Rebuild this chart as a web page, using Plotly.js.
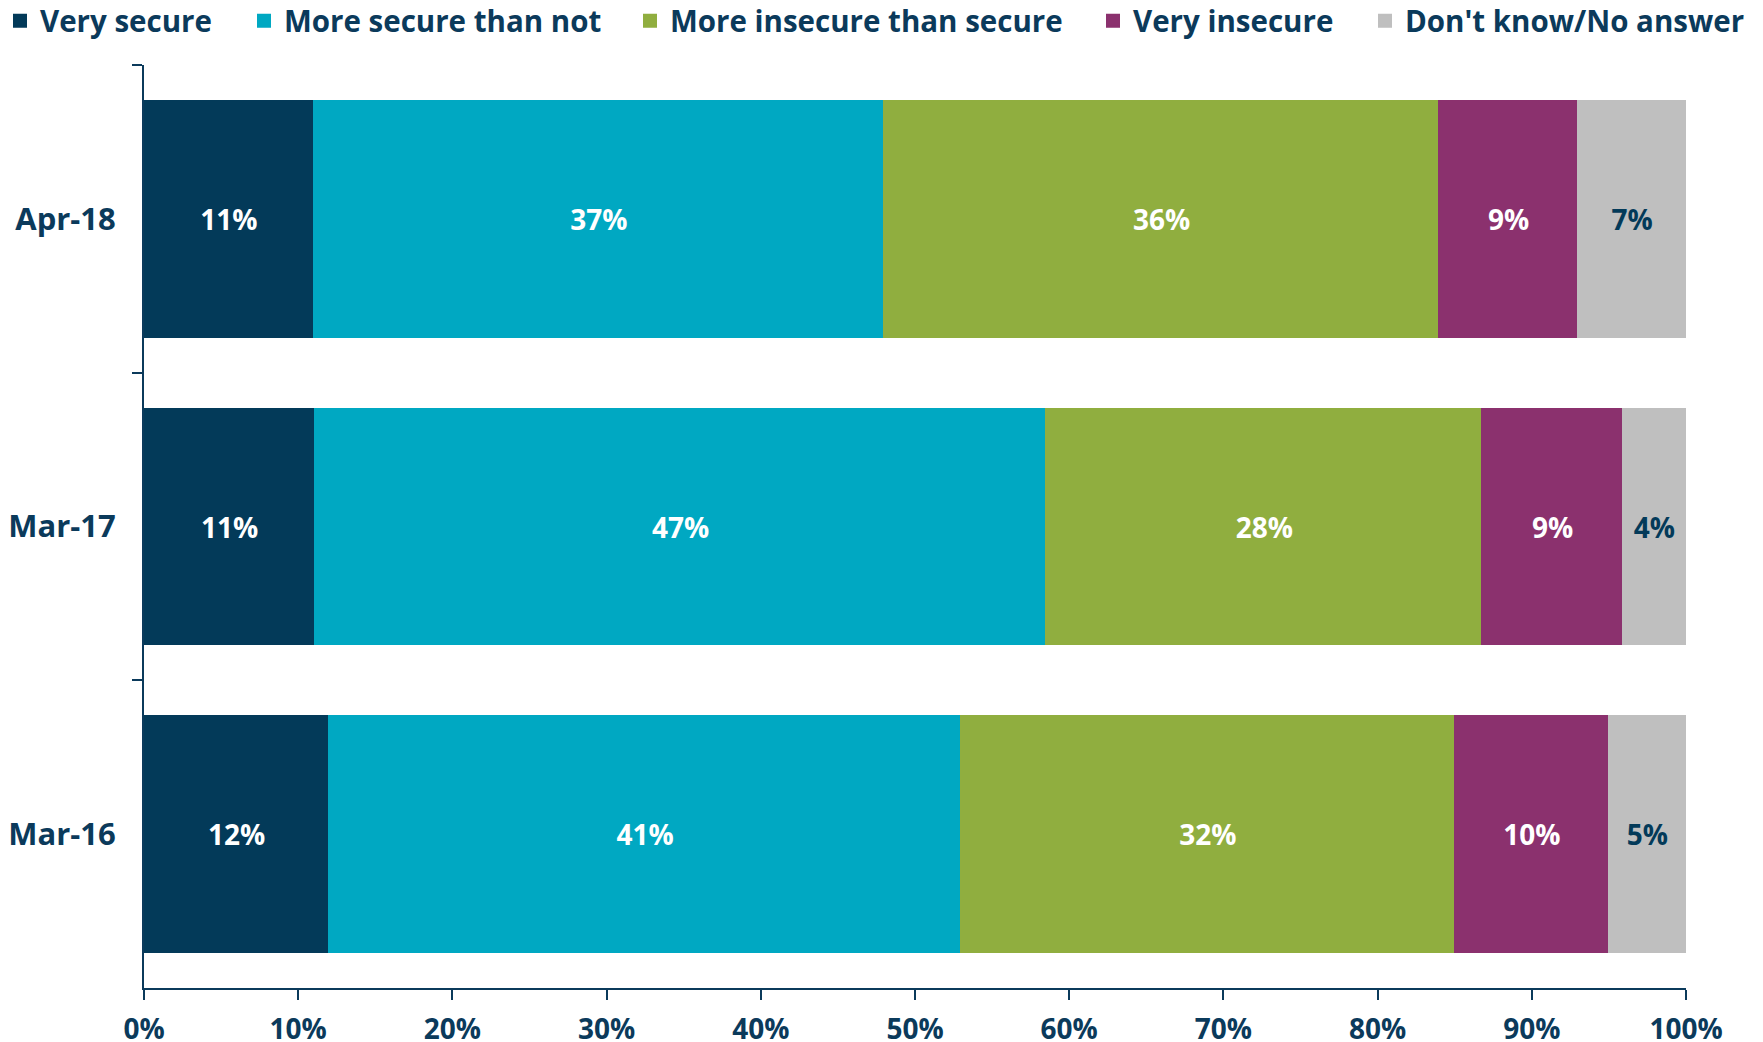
<!DOCTYPE html>
<html>
<head>
<meta charset="utf-8">
<script src="https://cdn.plot.ly/plotly-3.0.1.min.js"></script>
<style>
  html, body { margin: 0; padding: 0; background: #ffffff; }
  #chart { width: 1763px; height: 1042px; }
</style>
</head>
<body>
<div id="chart"></div>
<script>
// Survey waves (top to bottom)
const categories = ['Apr-18', 'Mar-17', 'Mar-16'];

// Series names
const seriesNames = ['Very secure', 'More secure than not', 'More insecure than secure', 'Very insecure', "Don't know/No answer"];

// Values in percent, per wave in the order of `categories`
const verySecure      = [11, 11.1, 12];
const moreSecure      = [37, 47.4, 41];
const moreInsecure    = [36, 28.3, 32];
const veryInsecure    = [9, 9.1, 10];
const dontKnow        = [7, 4.1, 5];

// X-axis tick values / labels
const xTickVals = [0, 10, 20, 30, 40, 50, 60, 70, 80, 90, 100];
const xTickText = ['0%', '10%', '20%', '30%', '40%', '50%', '60%', '70%', '80%', '90%', '100%'];

const seriesValues = [verySecure, moreSecure, moreInsecure, veryInsecure, dontKnow];
const seriesColors = ['#033A59', '#00A8C2', '#90AE3F', '#8B316E', '#BFBFBF'];
const labelColors  = ['#ffffff', '#ffffff', '#ffffff', '#ffffff', '#033A59'];

const navy = '#0B3A5B';
const fontFamily = '"Open Sans", "Noto Sans", Arial, sans-serif';

// one legend per series so the single row never wraps
const legendIds = ['legend', 'legend2', 'legend3', 'legend4', 'legend5'];
const legendX = [0, 244, 630, 1093, 1365];

const traces = seriesNames.map((name, i) => ({
  type: 'bar',
  orientation: 'h',
  name: name,
  legend: legendIds[i],
  y: categories,
  x: seriesValues[i],
  marker: { color: seriesColors[i], line: { width: 2, color: seriesColors[i] } },
  texttemplate: '%{x:.0f}%',
  textposition: 'inside',
  insidetextanchor: 'middle',
  constraintext: 'none',
  textfont: { family: fontFamily, size: 28, color: labelColors[i], weight: 'bold' },
  hoverinfo: 'skip'
}));

const layout = {
  width: 1763,
  height: 1042,
  barmode: 'stack',
  bargap: 0.234,
  paper_bgcolor: '#ffffff',
  plot_bgcolor: '#ffffff',
  font: { family: fontFamily, color: navy, size: 28, weight: 'bold' },
  margin: { l: 144, r: 77, t: 65, b: 54, pad: 0 },
  showlegend: true,
  xaxis: {
    range: [0, 100],
    tickvals: xTickVals,
    ticktext: xTickText,
    showgrid: false,
    zeroline: false,
    showline: true,
    linecolor: navy,
    linewidth: 2,
    ticks: 'outside',
    ticklen: 10,
    tickwidth: 2,
    tickcolor: navy,
    ticklabelstandoff: 5,
    tickfont: { family: fontFamily, size: 28, color: navy, weight: 'bold' },
    automargin: false,
    fixedrange: true
  },
  yaxis: {
    type: 'category',
    autorange: 'reversed',
    showgrid: false,
    zeroline: false,
    showline: true,
    linecolor: navy,
    linewidth: 2,
    ticks: 'outside',
    tickson: 'boundaries',
    ticklen: 10,
    tickwidth: 2,
    tickcolor: navy,
    ticklabelstandoff: 20,
    tickfont: { family: fontFamily, size: 31, color: navy, weight: 'bold' },
    automargin: false,
    fixedrange: true
  }
};

legendIds.forEach((id, i) => {
  layout[id] = {
    orientation: 'h',
    xref: 'container', yref: 'container',
    x: legendX[i] / 1763, y: 1 - 21 / 1042, xanchor: 'left', yanchor: 'middle',
    font: { family: fontFamily, size: 29.5, color: navy, weight: 'bold' },
    bgcolor: 'rgba(0,0,0,0)',
    itemclick: false, itemdoubleclick: false
  };
});

Plotly.newPlot('chart', traces, layout, { displayModeBar: false, staticPlot: true });
</script>
</body>
</html>
